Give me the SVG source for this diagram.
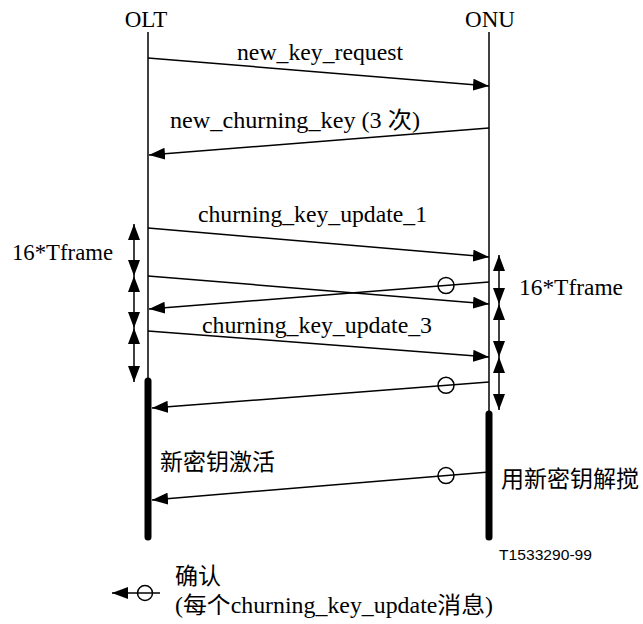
<svg xmlns="http://www.w3.org/2000/svg" width="643" height="624" viewBox="0 0 643 624">
<style>
.t{font-family:'Liberation Serif','Times New Roman',Times,serif;font-size:23px;fill:#000}
.m{font-family:'Liberation Serif','Times New Roman','Noto Sans CJK SC',serif;font-size:23px;fill:#000}
.c{font-family:'Noto Sans CJK SC',sans-serif;font-size:23px;fill:#000}
.ln{stroke:#000;stroke-width:1.5;fill:none}
.msg{stroke:#000;stroke-width:1.5;fill:none;marker-end:url(#ah)}
.dbl{stroke:#000;stroke-width:1.5;fill:none;marker-end:url(#ah);marker-start:url(#ahs)}
.bar{stroke:#000;stroke-width:7;stroke-linecap:round;fill:none}
.ack{stroke:#000;stroke-width:1.5;fill:none}
</style>
<defs>
<marker id="ah" markerUnits="userSpaceOnUse" markerWidth="16" markerHeight="12" refX="16" refY="6" orient="auto"><path d="M0,0 L16,6 L0,12 z" fill="#000"/></marker>
<marker id="ahs" markerUnits="userSpaceOnUse" markerWidth="16" markerHeight="12" refX="16" refY="6" orient="auto-start-reverse"><path d="M0,0 L16,6 L0,12 z" fill="#000"/></marker>
</defs>
<rect width="643" height="624" fill="#fff"/>
<g id="olt">
<text class="t" x="146" y="27" text-anchor="middle">OLT</text>
<line class="ln" x1="148" y1="32" x2="148" y2="380"/>
<line class="bar" x1="148" y1="381" x2="148" y2="537"/>
<text class="c" x="160" y="470">新密钥激活</text>
</g>
<g id="onu">
<text class="t" x="490" y="27" text-anchor="middle">ONU</text>
<line class="ln" x1="489" y1="32" x2="489" y2="413"/>
<line class="bar" x1="489" y1="414" x2="489" y2="537"/>
<text class="c" x="501" y="487">用新密钥解搅</text>
</g>
<g id="connectors">
<line class="msg" x1="148" y1="58" x2="489" y2="86"/>
<text class="t" x="237" y="60" textLength="166" lengthAdjust="spacingAndGlyphs">new_key_request</text>
<line class="msg" x1="489" y1="128" x2="149" y2="155"/>
<text class="m" x="170" y="128" textLength="250" lengthAdjust="spacingAndGlyphs">new_churning_key (3 次)</text>
<line class="msg" x1="148" y1="228" x2="489" y2="257"/>
<text class="t" x="198" y="222" textLength="229" lengthAdjust="spacingAndGlyphs">churning_key_update_1</text>
<line class="msg" x1="148" y1="276" x2="489" y2="304"/>
<line class="msg" x1="489" y1="282" x2="149" y2="309"/>
<circle class="ack" cx="446" cy="285.5" r="8"/>
<line class="msg" x1="148" y1="331" x2="489" y2="357"/>
<text class="t" x="202" y="333" textLength="230" lengthAdjust="spacingAndGlyphs">churning_key_update_3</text>
<line class="msg" x1="489" y1="382" x2="152" y2="408"/>
<circle class="ack" cx="446" cy="385.3" r="8"/>
<line class="msg" x1="489" y1="472" x2="152" y2="500"/>
<circle class="ack" cx="446" cy="475.6" r="8"/>
<line class="dbl" x1="134" y1="224" x2="134" y2="276"/>
<line class="dbl" x1="134" y1="276" x2="134" y2="328"/>
<line class="dbl" x1="134" y1="328" x2="134" y2="382"/>
<line class="dbl" x1="499" y1="255" x2="499" y2="304"/>
<line class="dbl" x1="499" y1="304" x2="499" y2="357"/>
<line class="dbl" x1="499" y1="357" x2="499" y2="410"/>
</g>
<text class="t" x="12" y="260" textLength="101" lengthAdjust="spacingAndGlyphs">16*Tframe</text>
<text class="t" x="519" y="295" textLength="104" lengthAdjust="spacingAndGlyphs">16*Tframe</text>
<text x="499" y="560" font-family="'Liberation Sans', Arial, sans-serif" font-size="15" textLength="93" lengthAdjust="spacingAndGlyphs">T1533290-99</text>
<g id="legend">
<line class="msg" x1="160" y1="593" x2="112" y2="593"/>
<circle class="ack" cx="145" cy="593" r="7.5"/>
<text class="c" x="175" y="584" font-size="21">确认</text>
<text class="m" x="175" y="613" textLength="318" lengthAdjust="spacingAndGlyphs">(每个churning_key_update消息)</text>
</g>
</svg>
